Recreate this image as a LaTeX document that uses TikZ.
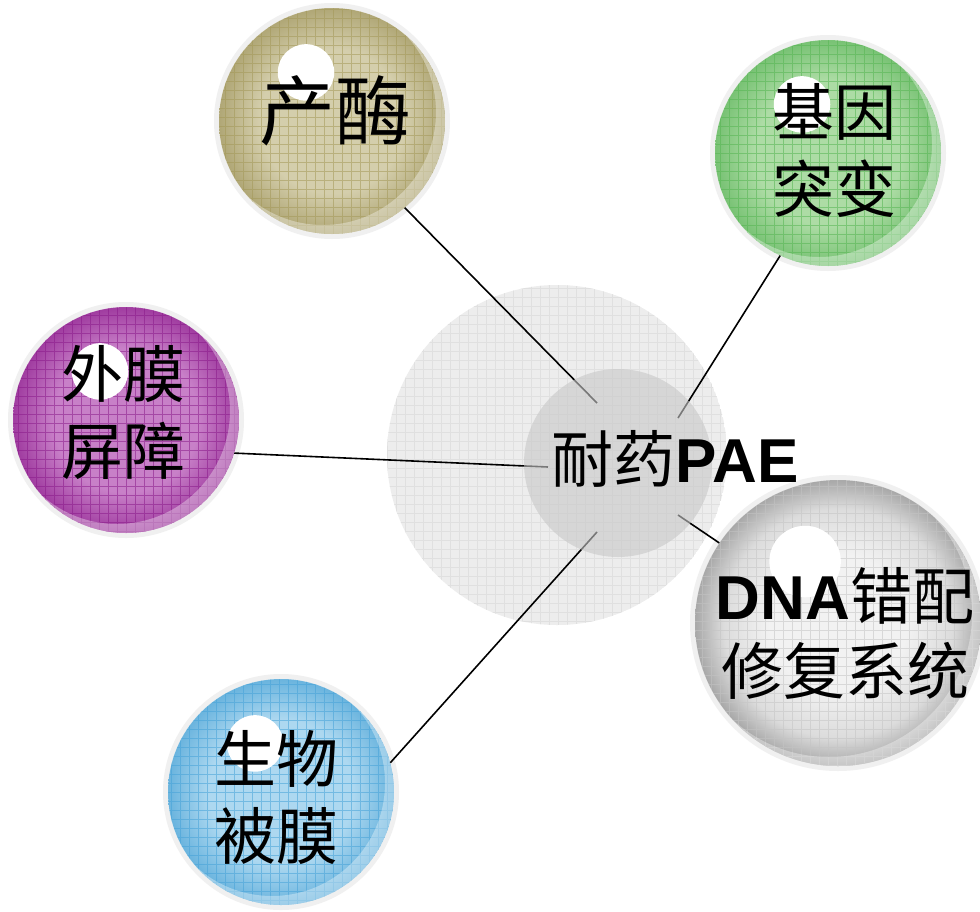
\documentclass[tikz,border=0pt]{standalone}
\usepackage{fontspec}
\setmainfont{Liberation Sans}
\newfontfamily\cjk{Noto Sans CJK SC}
\usetikzlibrary{calc}

\definecolor{enzIn}{HTML}{D4CEAC}
\definecolor{enzOut}{HTML}{B0A776}
\definecolor{enzGrid}{HTML}{A39858}
\definecolor{genIn}{HTML}{ADDCA5}
\definecolor{genOut}{HTML}{78C274}
\definecolor{genGrid}{HTML}{55B552}
\definecolor{memIn}{HTML}{C880C8}
\definecolor{memOut}{HTML}{A03CA0}
\definecolor{memGrid}{HTML}{8A1A8A}
\definecolor{bioIn}{HTML}{ADD8F0}
\definecolor{bioOut}{HTML}{6AB4DE}
\definecolor{bioGrid}{HTML}{45A2D8}
\definecolor{dnaIn}{HTML}{F2F2F2}
\definecolor{dnaMid}{HTML}{DCDCDC}
\definecolor{dnaOut}{HTML}{A8A8A8}
\definecolor{dnaGrid}{HTML}{C4C4C4}
\definecolor{ringcol}{HTML}{F0F0F0}
\definecolor{bigcol}{HTML}{EDEDED}
\definecolor{biggrid}{HTML}{E0E0E0}
\definecolor{hubcol}{HTML}{C8C8C8}

\pgfdeclareradialshading{shEnz}{\pgfpoint{0bp}{0bp}}{color(0bp)=(enzIn); color(16bp)=(enzIn); color(25bp)=(enzOut); color(50bp)=(enzOut)}
\pgfdeclareradialshading{shGen}{\pgfpoint{0bp}{0bp}}{color(0bp)=(genIn); color(16bp)=(genIn); color(25bp)=(genOut); color(50bp)=(genOut)}
\pgfdeclareradialshading{shMem}{\pgfpoint{0bp}{0bp}}{color(0bp)=(memIn); color(16bp)=(memIn); color(25bp)=(memOut); color(50bp)=(memOut)}
\pgfdeclareradialshading{shBio}{\pgfpoint{0bp}{0bp}}{color(0bp)=(bioIn); color(16bp)=(bioIn); color(25bp)=(bioOut); color(50bp)=(bioOut)}
\pgfdeclareradialshading{shDna}{\pgfpoint{0bp}{0bp}}{color(0bp)=(dnaIn); color(12bp)=(dnaIn); color(20bp)=(dnaMid); color(25bp)=(dnaOut); color(50bp)=(dnaOut)}

\newcommand\bubblebg[5]{%
  \pgfmathsetmacro\bx{#1}\pgfmathsetmacro\by{#2}\pgfmathsetmacro\br{#3}%
  \pgfmathsetmacro\brr{#3+5}%
  \pgfmathsetmacro\sr{0.25*#3}%
  \fill[ringcol] (\bx,\by) circle[radius=\brr pt];
  \begin{scope}
    \clip (\bx,\by) circle[radius=\br pt];
    \shade[shading=#4] (\bx,\by) circle[radius=\br pt];
    \draw[#5, line width=0.5pt, opacity=0.55, step=9pt] (\bx-\br,\by-\br) grid (\bx+\br,\by+\br);
    \fill[white, opacity=0.35, even odd rule] (\bx,\by) circle[radius=\br pt] (\bx-9,\by-9) circle[radius=\br pt];
    \fill[white] (\bx-0.23*\br,\by-0.43*\br) circle[radius=\sr pt];
  \end{scope}}

\tikzset{
  bubble/.style={circle, inner sep=0pt, draw=none},
  label62/.style={align=center, inner sep=0pt, font=\cjk\fontsize{62}{77}\selectfont},
  link/.style={draw=black, line width=1.6pt}
}

\begin{document}
\begin{tikzpicture}[x=1pt,y=-1pt]
\path[use as bounding box] (0,0) rectangle (980,911);
\fill[white] (0,0) rectangle (980,911);

% large faint circle
\begin{scope}
  \clip (557,455) circle[radius=170pt];
  \fill[bigcol] (557,455) circle[radius=170pt];
  \draw[biggrid, line width=0.5pt, step=9pt] (387,285) grid (727,625);
\end{scope}

% bubbles
\bubblebg{332}{121}{113}{shEnz}{enzGrid}
\node[bubble, minimum size=226pt] (enz) at (332,121) {};
\node[inner sep=0pt, font=\cjk\fontsize{76}{80}\selectfont] (enzT) at (335,111) {产酶};

\bubblebg{828}{153}{113}{shGen}{genGrid}
\node[bubble, minimum size=226pt] (gen) at (828,153) {};
\node[label62] (genT) at (834,150) {基因\\突变};

\bubblebg{126}{420}{113}{shMem}{memGrid}
\node[bubble, minimum size=226pt] (mem) at (126,420) {};
\node[label62] (memT) at (123,412) {外膜\\屏障};

\bubblebg{281}{792}{113}{shBio}{bioGrid}
\node[bubble, minimum size=226pt] (bio) at (281,792) {};
\node[label62] (bioT) at (276,797) {生物\\被膜};

\bubblebg{838}{623}{143}{shDna}{dnaGrid}
\node[bubble, minimum size=286pt] (dna) at (838,623) {};
\node[align=center, inner sep=0pt, font=\fontsize{62}{75}\selectfont] (dnaT) at (845,633) {\textbf{DNA}{\cjk 错配}\\{\cjk 修复系统}};

% connectors
\coordinate (h1) at (597,403);
\coordinate (h2) at (678,418);
\coordinate (h3) at (548,467);
\coordinate (h4) at (678,515);
\coordinate (h5) at (597,532);
\draw[link] (enz.-50) -- (h1);
\draw[link] (gen.-115) -- (h2);
\draw[link] (mem.-17) -- (h3);
\draw[link] (dna.146) -- (h4);
\draw[link] (bio.15) -- (h5);

% hub
\node[circle, fill=hubcol, fill opacity=0.6, minimum size=188pt, inner sep=0pt] (hub) at (618,463) {};
\node[inner sep=0pt, font=\fontsize{62}{70}\selectfont] (paeT) at (675,459) {{\cjk 耐药}\textbf{PAE}};
\end{tikzpicture}
\end{document}
